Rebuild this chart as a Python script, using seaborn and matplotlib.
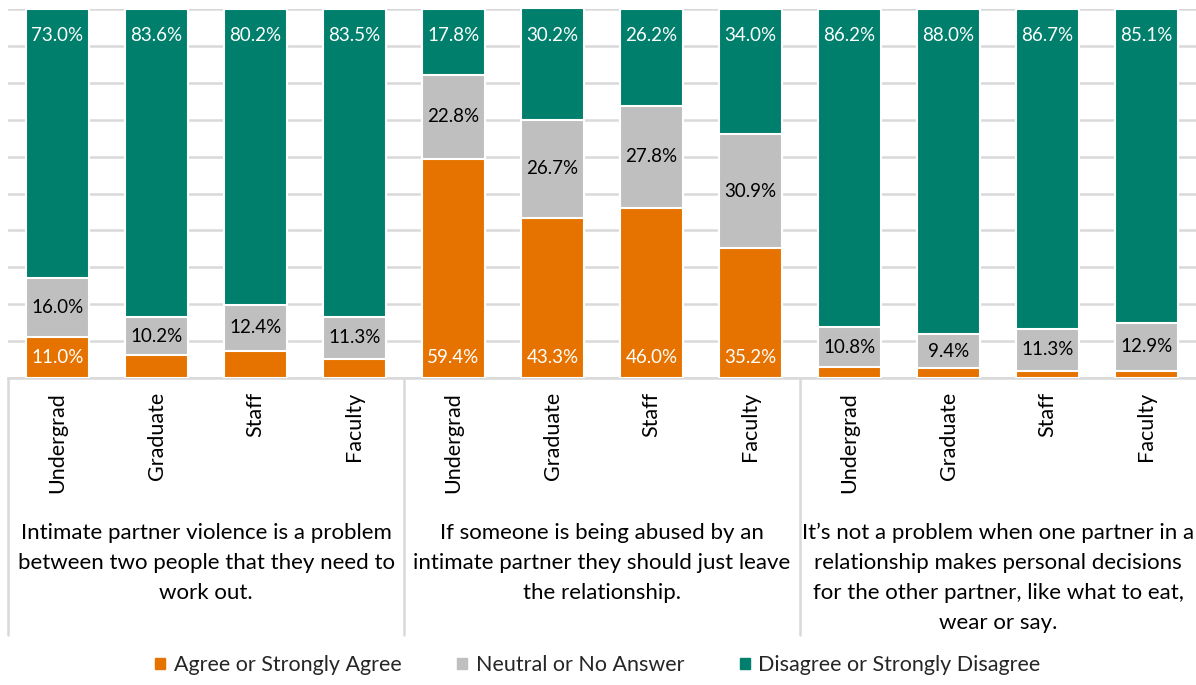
import matplotlib
matplotlib.use("Agg")
import matplotlib.pyplot as plt
import seaborn as sns
import pandas as pd
import numpy as np

groups = ["Intimate partner violence is a problem\nbetween two people that they need to\nwork out.",
          "If someone is being abused by an\nintimate partner they should just leave\nthe relationship.",
          "It\u2019s not a problem when one partner in a\nrelationship makes personal decisions\nfor the other partner, like what to eat,\nwear or say."]
roles = ["Undergrad", "Graduate", "Staff", "Faculty"]

agree = [11.0, 6.2, 7.4, 5.2, 59.4, 43.3, 46.0, 35.2, 3.0, 2.6, 2.0, 2.0]
neutral = [16.0, 10.2, 12.4, 11.3, 22.8, 26.7, 27.8, 30.9, 10.8, 9.4, 11.3, 12.9]
disagree = [73.0, 83.6, 80.2, 83.5, 17.8, 30.2, 26.2, 34.0, 86.2, 88.0, 86.7, 85.1]
series_names = ["Agree or Strongly Agree", "Neutral or No Answer", "Disagree or Strongly Disagree"]
colors = ["#E67300", "#BFBFBF", "#007F6C"]

sns.set_theme(style="white")
plt.rcParams['font.family'] = ['Lato', 'DejaVu Sans']

keys = [f"{g}_{r}" for g in range(3) for r in roles]
df = pd.DataFrame({"key": keys, "agree": agree, "neutral": neutral, "disagree": disagree})
df["c_neutral"] = df["agree"] + df["neutral"]
df["c_total"] = df["c_neutral"] + df["disagree"]

fig = plt.figure(figsize=(11.96, 6.85), dpi=100)
ax = fig.add_axes([8/1196, 1 - 378/685, 1 - 8/1196, (378 - 9)/685])

bw = 0.645
for col, c in [("c_total", colors[2]), ("c_neutral", colors[1]), ("agree", colors[0])]:
    sns.barplot(data=df, x="key", y=col, order=keys, color=c, width=bw, saturation=1,
                edgecolor="white", linewidth=1.5, ax=ax, errorbar=None, zorder=3)

ax.set_xlim(-0.5, 11.5)
ax.set_ylim(0, 100)
ax.set_yticks(np.arange(0, 101, 10))
ax.yaxis.grid(True, color="#D9D9D9", linewidth=1.8, zorder=0)
ax.set_axisbelow(True)
ax.set_yticklabels([])
ax.tick_params(axis="y", length=0)
ax.set_xticks([])
ax.set_xlabel("")
ax.set_ylabel("")
for s in ["top", "right", "left"]:
    ax.spines[s].set_visible(False)
ax.spines["bottom"].set_color("#D9D9D9")
ax.spines["bottom"].set_linewidth(1.8)

fs = 13.5
for i in range(12):
    a, n, d = agree[i], neutral[i], disagree[i]
    ax.text(i, 100 - 7.2, f"{d:.1f}%", ha="center", va="center", color="white", fontsize=fs, zorder=5)
    ax.text(i, a + n / 2, f"{n:.1f}%", ha="center", va="center", color="black", fontsize=fs, zorder=5)
    if a >= 10:
        ax.text(i, 5.6, f"{a:.1f}%", ha="center", va="center", color="white", fontsize=fs, zorder=5)

trans = ax.get_xaxis_transform()
for i in range(12):
    ax.text(i, -14/369, roles[i % 4], rotation=90, ha="center", va="top", fontsize=15.5,
            color="black", transform=trans)
for g in range(3):
    ax.text(4 * g + 1.5, -145/369, groups[g], ha="center", va="top", fontsize=16,
            linespacing=1.62, color="black", transform=trans)
for xv in [-0.5, 3.5, 7.5]:
    ax.plot([xv, xv], [0, -257/369], color="#D9D9D9", linewidth=1.8, transform=trans, clip_on=False)

handles = [plt.Rectangle((0, 0), 1, 1, color=c) for c in colors]
fig.legend(handles, series_names, loc="center", bbox_to_anchor=(0.5, 1 - 665/685), ncol=3,
           frameon=False, fontsize=15.5, handlelength=0.45, handleheight=0.45, handletextpad=0.4,
           columnspacing=2.6)

fig.savefig("out.png", dpi=100)
